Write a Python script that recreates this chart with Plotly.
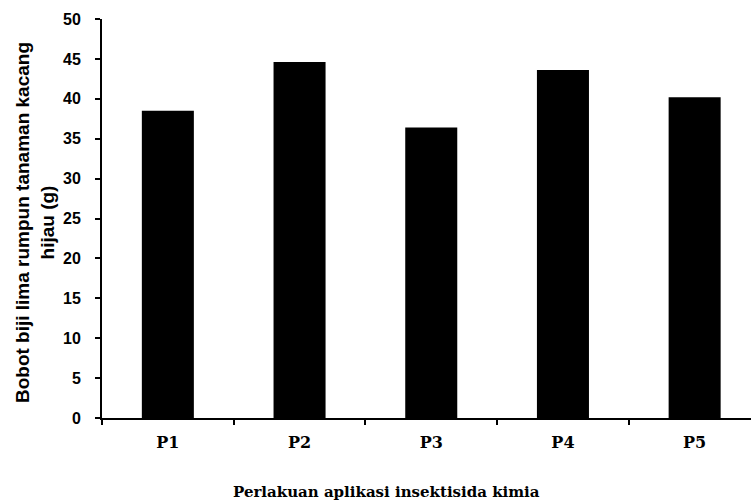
import plotly.graph_objects as go

categories = ["P1", "P2", "P3", "P4", "P5"]
values = [38.5, 44.6, 36.4, 43.6, 40.2]
y_ticks = [0, 5, 10, 15, 20, 25, 30, 35, 40, 45, 50]
y_title = "Bobot biji lima rumpun tanaman kacang<br>hijau (g)"
x_title = "Perlakuan aplikasi insektisida kimia"

fig = go.Figure()
fig.add_trace(go.Bar(x=categories, y=values, marker=dict(color="black", line=dict(width=0)),
                     width=0.395, showlegend=False, hoverinfo="skip"))

W, H = 751, 504
left, top, bottom = 101.5, 19, 418
cat_px = 131.8
fig.update_layout(
    width=W, height=H,
    margin=dict(l=left, r=0, t=top, b=H - bottom, pad=0),
    paper_bgcolor="white", plot_bgcolor="white",
    xaxis=dict(type="category", range=[-0.5, -0.5 + (W - left) / cat_px],
               showline=True, linecolor="black", linewidth=2,
               ticks="outside", tickson="boundaries", ticklen=5, tickwidth=2, tickcolor="black",
               showgrid=False, zeroline=False,
               tickfont=dict(family="DejaVu Serif", size=16, color="black", weight="bold"),
               ticklabelstandoff=9),
    yaxis=dict(range=[0, 50], tickvals=y_ticks, showline=True, linecolor="black", linewidth=2,
               ticks="outside", ticklen=5, tickwidth=2, tickcolor="black",
               showgrid=False, zeroline=False,
               tickfont=dict(family="Liberation Sans", size=16, color="black", weight="bold"),
               ticklabelstandoff=11),
    annotations=[
        dict(text=x_title, xref="paper", yref="paper", x=(386 - left) / (W - left), y=(bottom - 492) / (bottom - top),
             xanchor="center", yanchor="middle", showarrow=False,
             font=dict(family="DejaVu Serif", size=15, color="black", weight="bold")),
        dict(text=y_title, xref="paper", yref="paper", x=(34.5 - left) / (W - left), y=(bottom - 223) / (bottom - top),
             xanchor="center", yanchor="middle", showarrow=False, textangle=-90,
             font=dict(family="Liberation Sans", size=19, color="black", weight="bold")),
    ],
)

fig.write_html("out.html", config={"displayModeBar": False},
               post_script="document.body.style.margin='0';document.body.style.overflow='hidden';")
